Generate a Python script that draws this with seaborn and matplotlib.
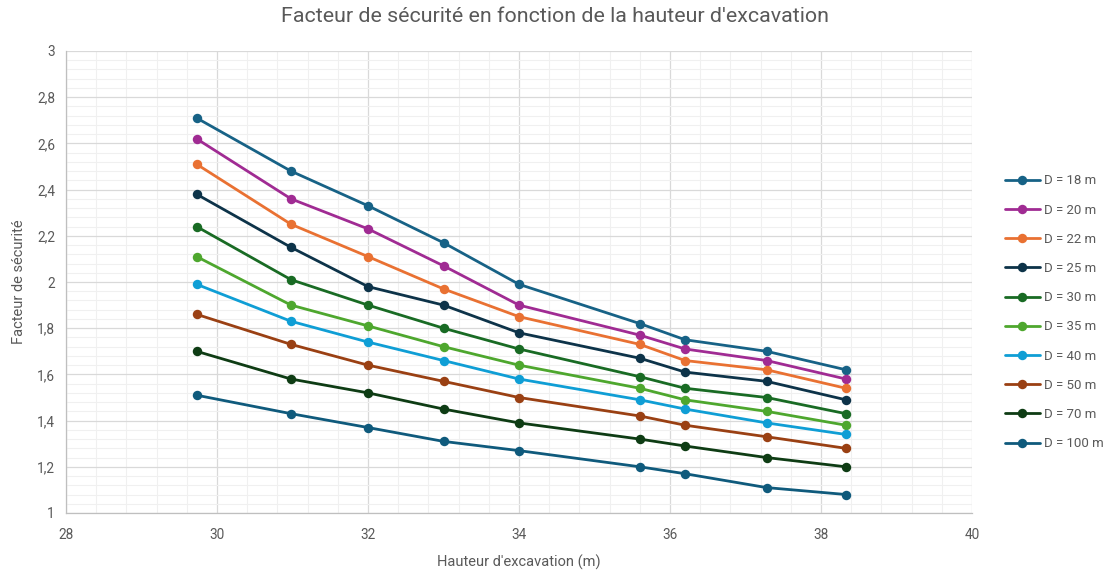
import matplotlib
matplotlib.use("Agg")
import matplotlib.pyplot as plt
from matplotlib.ticker import MultipleLocator, FuncFormatter
import seaborn as sns
import pandas as pd

# Excavation heights (m)
hauteur = [29.73, 30.98, 32.0, 33.0, 34.0, 35.6, 36.2, 37.28, 38.33]

# Safety factor for each distance D
series_labels = ["D = 18 m", "D = 20 m", "D = 22 m", "D = 25 m", "D = 30 m",
                 "D = 35 m", "D = 40 m", "D = 50 m", "D = 70 m", "D = 100 m"]
fs_18 = [2.71, 2.48, 2.33, 2.17, 1.99, 1.82, 1.75, 1.70, 1.62]
fs_20 = [2.62, 2.36, 2.23, 2.07, 1.90, 1.77, 1.71, 1.66, 1.58]
fs_22 = [2.51, 2.25, 2.11, 1.97, 1.85, 1.73, 1.66, 1.62, 1.54]
fs_25 = [2.38, 2.15, 1.98, 1.90, 1.78, 1.67, 1.61, 1.57, 1.49]
fs_30 = [2.24, 2.01, 1.90, 1.80, 1.71, 1.59, 1.54, 1.50, 1.43]
fs_35 = [2.11, 1.90, 1.81, 1.72, 1.64, 1.54, 1.49, 1.44, 1.38]
fs_40 = [1.99, 1.83, 1.74, 1.66, 1.58, 1.49, 1.45, 1.39, 1.34]
fs_50 = [1.86, 1.73, 1.64, 1.57, 1.50, 1.42, 1.38, 1.33, 1.28]
fs_70 = [1.70, 1.58, 1.52, 1.45, 1.39, 1.32, 1.29, 1.24, 1.20]
fs_100 = [1.51, 1.43, 1.37, 1.31, 1.27, 1.20, 1.17, 1.11, 1.08]

colors = ["#176286", "#A02B93", "#E97132", "#0D3349", "#196B24",
          "#4EA72E", "#0F9ED5", "#9A4013", "#0E3C14", "#0F5A7C"]

all_series = [fs_18, fs_20, fs_22, fs_25, fs_30, fs_35, fs_40, fs_50, fs_70, fs_100]
df = pd.concat(
    [pd.DataFrame({"Hauteur": hauteur, "FS": vals, "Serie": lab})
     for lab, vals in zip(series_labels, all_series)],
    ignore_index=True,
)

sns.set_theme(style="white")
plt.rcParams["font.family"] = ["Roboto", "DejaVu Sans"]
text_col = "#595959"

fig = plt.figure(figsize=(11.10, 5.72), dpi=100)
ax = fig.add_axes([66 / 1110, 59 / 572, 906 / 1110, 462 / 572])

sns.lineplot(
    data=df, x="Hauteur", y="FS", hue="Serie", hue_order=series_labels,
    palette=dict(zip(series_labels, colors)), marker="o", markersize=6.8,
    markeredgewidth=0, linewidth=2.0, sort=False, ax=ax, zorder=3,
)

ax.set_xlim(28, 40)
ax.set_ylim(1, 3)
ax.xaxis.set_major_locator(MultipleLocator(2))
ax.xaxis.set_minor_locator(MultipleLocator(0.4))
ax.yaxis.set_major_locator(MultipleLocator(0.2))
ax.yaxis.set_minor_locator(MultipleLocator(0.04))
ax.yaxis.set_major_formatter(FuncFormatter(lambda v, p: f"{v:.1f}".rstrip("0").rstrip(".").replace(".", ",")))
ax.xaxis.set_major_formatter(FuncFormatter(lambda v, p: f"{v:.0f}"))

ax.grid(which="major", color="#d9d9d9", linewidth=0.9, zorder=0)
ax.grid(which="minor", color="#f0f0f0", linewidth=0.8, zorder=0)
ax.set_axisbelow(True)
for side in ["top", "right"]:
    ax.spines[side].set_visible(False)
for side in ["left", "bottom"]:
    ax.spines[side].set_color("#bfbfbf")
    ax.spines[side].set_linewidth(0.9)

ax.tick_params(axis="both", which="both", length=0, labelsize=9.8, colors=text_col)
ax.tick_params(axis="x", pad=11)
ax.tick_params(axis="y", pad=8)

ax.set_xlabel("Hauteur d'excavation (m)", fontsize=10.5, color=text_col, labelpad=9)
ax.set_ylabel("Facteur de sécurité", fontsize=10.5, color=text_col, labelpad=8)

fig.suptitle("Facteur de sécurité en fonction de la hauteur d'excavation",
             fontsize=15.4, color=text_col, y=1 - 16 / 572, va="center")

handles, labels = ax.get_legend_handles_labels()
leg = ax.legend(handles, labels, loc="upper left", bbox_to_anchor=(1000 / 1110, 1 - 169 / 572),
                bbox_transform=fig.transFigure, frameon=False, fontsize=9.5,
                handlelength=2.6, handletextpad=0.35, labelspacing=1.23, borderaxespad=0)
for t in leg.get_texts():
    t.set_color(text_col)

fig.savefig("out.png", dpi=100)
